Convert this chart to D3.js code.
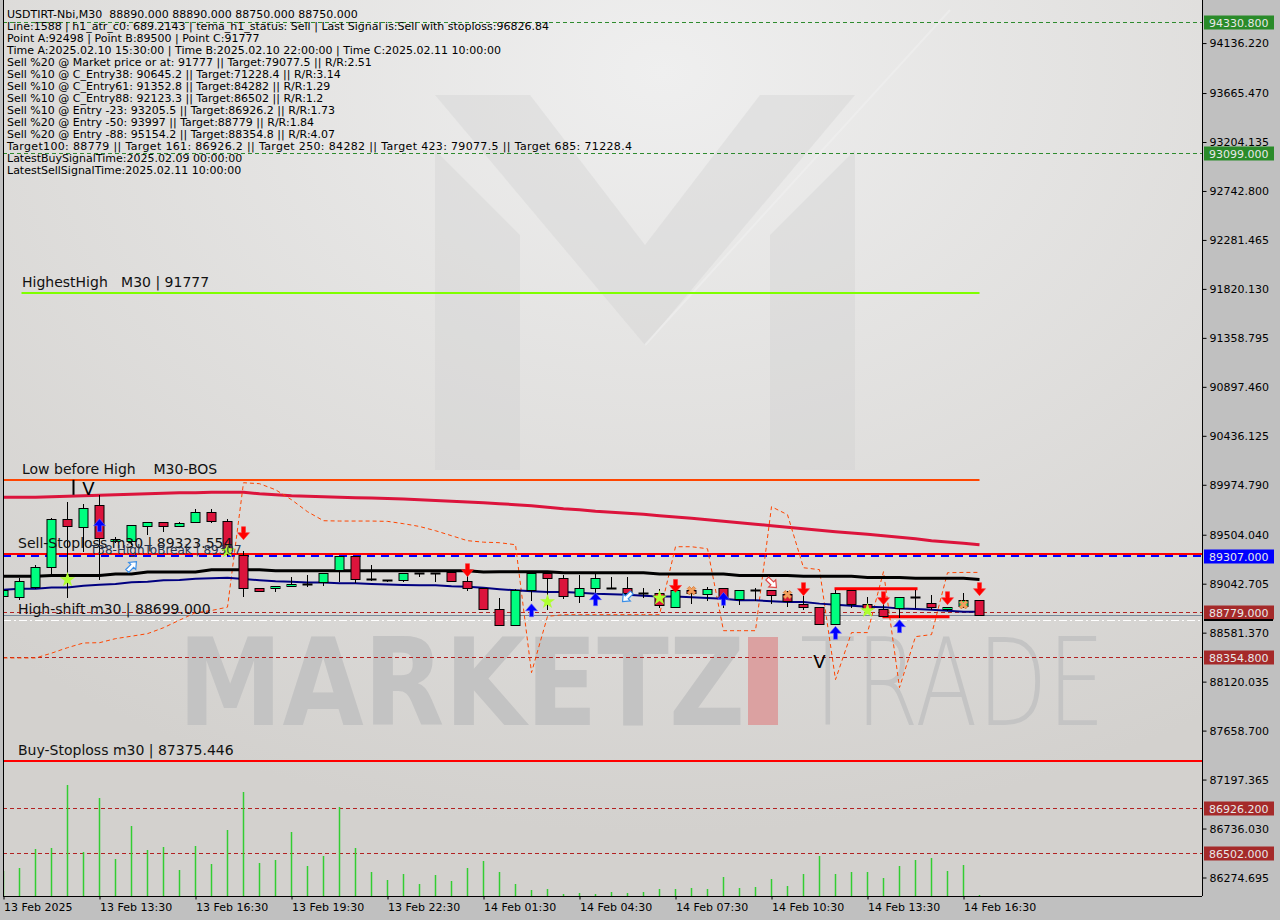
<!DOCTYPE html>
<html><head><meta charset="utf-8">
<script src="https://cdn.jsdelivr.net/npm/d3@7"></script>
<style>body{margin:0;background:#c0c0c0;}svg{display:block;} text{white-space:pre;}</style>
</head><body><svg id="c" width="1280" height="920"></svg>
<script>
// ---------------- DATA ----------------
const headerLines = [
 "USDTIRT-Nbi,M30  88890.000 88890.000 88750.000 88750.000",
 "Line:1588 | h1_atr_c0: 689.2143 | tema_h1_status: Sell | Last Signal is:Sell with stoploss:96826.84",
 "Point A:92498 | Point B:89500 | Point C:91777",
 "Time A:2025.02.10 15:30:00 | Time B:2025.02.10 22:00:00 | Time C:2025.02.11 10:00:00",
 "Sell %20 @ Market price or at: 91777 || Target:79077.5 || R/R:2.51",
 "Sell %10 @ C_Entry38: 90645.2 || Target:71228.4 || R/R:3.14",
 "Sell %10 @ C_Entry61: 91352.8 || Target:84282 || R/R:1.29",
 "Sell %10 @ C_Entry88: 92123.3 || Target:86502 || R/R:1.2",
 "Sell %10 @ Entry -23: 93205.5 || Target:86926.2 || R/R:1.73",
 "Sell %20 @ Entry -50: 93997 || Target:88779 || R/R:1.84",
 "Sell %20 @ Entry -88: 95154.2 || Target:88354.8 || R/R:4.07",
 "Target100: 88779 || Target 161: 86926.2 || Target 250: 84282 || Target 423: 79077.5 || Target 685: 71228.4",
 "LatestBuySignalTime:2025.02.09 00:00:00",
 "LatestSellSignalTime:2025.02.11 10:00:00"
];
const timeIdx = [0,6,12,18,24,30,36,42,48,54,60];
const timeLabels = ["13 Feb 2025","13 Feb 13:30","13 Feb 16:30","13 Feb 19:30","13 Feb 22:30","14 Feb 01:30","14 Feb 04:30","14 Feb 07:30","14 Feb 10:30","14 Feb 13:30","14 Feb 16:30"];
const priceTicks = [94136.22,93665.47,93204.135,92742.8,92281.465,91820.13,91358.795,90897.46,90436.125,89974.79,89504.04,89042.705,88581.37,88120.035,87658.7,87197.365,86736.03,86274.695];

const open  = [88930,88917,89012,89200,89652,89576,89786,89448,89441,89591,89624,89589,89620,89721,89638,89316,89002,88998,89017,89042,89059,89174,89304,89085,89078,89078,89146,89146,89149,89068,89002,88804,88650,88980,89143,89096,88923,89002,89005,89002,88955,88955,88820,88986,88942,89002,88899,88983,88986,88946,88854,88824,88663,88986,88851,88804,88814,88920,88861,88804,88836,88890];
const high  = [89033,89093,89222,89664,89808,89791,89878,89485,89600,89628,89628,89626,89746,89746,89655,89347,89002,89017,89106,89127,89143,89304,89304,89222,89078,89143,89146,89146,89150,89127,89002,88908,88996,89143,89143,89127,89127,89134,89102,89102,89002,88993,89002,88986,89012,89002,88986,89002,88986,88970,88930,88824,88986,88986,88917,88854,88917,88986,88939,88826,88955,88890];
const low   = [88864,88892,88996,89106,88908,89344,89080,89429,89410,89504,89526,89582,89614,89614,89300,88918,88961,88961,89012,89008,89017,89059,89052,89064,89055,89055,89102,89055,89060,88970,88800,88647,88647,88876,88798,88901,88861,88939,89000,88939,88908,88814,88814,88854,88876,88814,88845,88876,88854,88820,88798,88650,88650,88814,88782,88735,88720,88814,88798,88782,88814,88750];
const close = [88980,89071,89200,89652,89589,89755,89473,89466,89598,89624,89589,89614,89721,89638,89363,89002,88970,89017,89040,89042,89143,89304,89087,89085,89078,89143,89146,89146,89068,89002,88804,88650,88986,89143,89096,88923,89002,89096,89005,88955,88955,88838,88980,88955,88993,88908,88986,88983,88933,88876,88820,88663,88955,88854,88804,88735,88917,88920,88824,88826,88886,88750];
const volume = [250,280,470,480,1110,440,980,370,700,460,490,260,500,320,660,1040,330,360,640,300,400,890,480,240,160,220,120,210,150,280,350,240,120,60,70,20,30,20,40,30,40,70,70,80,70,190,80,90,170,100,220,400,220,240,240,180,300,360,380,250,310,10];

const crimsonMA = [89857,89857,89857,89862,89867,89871,89876,89881,89885,89890,89895,89899,89899,89904,89904,89904,89890,89881,89871,89867,89862,89857,89852,89850,89845,89840,89834,89827,89820,89812,89805,89796,89787,89777,89763,89749,89739,89725,89716,89706,89697,89683,89671,89659,89645,89631,89617,89603,89589,89575,89560,89546,89532,89520,89509,89495,89480,89466,89447,89435,89424,89410];
const blackMA = [89112,89112,89112,89121,89121,89121,89121,89134,89134,89153,89153,89153,89153,89174,89174,89174,89174,89165,89165,89165,89165,89165,89165,89165,89165,89165,89165,89165,89165,89165,89153,89156,89156,89156,89156,89146,89146,89146,89146,89146,89146,89134,89134,89134,89134,89134,89121,89121,89121,89121,89112,89112,89112,89112,89102,89102,89102,89093,89093,89093,89093,89083];
const navyMA = [88986,88996,88996,89008,89008,89024,89033,89040,89057,89062,89076,89078,89090,89095,89099,89087,89076,89066,89062,89055,89055,89047,89046,89041,89036,89031,89027,89027,89019,89015,89005,88991,88980,88972,88965,88965,88958,88949,88944,88939,88930,88923,88923,88916,88908,88902,88887,88886,88878,88871,88871,88855,88845,88836,88826,88822,88810,88805,88798,88789,88779,88779];
const orangeBand = [88343,88343,88343,88388,88440,88484,88487,88525,88548,88572,88628,88699,88770,88790,88822,89994,89985,89928,89834,89721,89636,89633,89633,89633,89630,89608,89582,89542,89495,89448,89434,89429,89410,88205,88735,88751,88751,88751,88751,88751,88751,88751,89391,89391,89372,88600,88600,88600,89768,89693,89193,89175,88139,88582,88582,89156,88064,88544,88563,89146,89149,89149];

const greenLevels = [94330.8, 93099.0];
const brownLevels = [88779.0, 88354.8, 86926.2, 86502.0];
const stopLevels = [89323.554, 87375.446];
const breakLevel = 89307.0;
const highestHigh = 91777;
const lowBeforeHigh = 90022;
const highShift = 88699.0;
const bidPrice = 88750;
const levelTexts = [
 {t:"HighestHigh   M30 | 91777", p:91777},
 {t:"Low before High    M30-BOS", p:90022},
 {t:"Sell-Stoploss m30 | 89323.554", p:89323.554},
 {t:"High-shift m30 | 88699.000", p:88699.0},
 {t:"Buy-Stoploss m30 | 87375.446", p:87375.446}
];
const axisBoxes = [
 {p:94330.8, k:"g"},{p:93099.0, k:"g"},{p:89307.0, k:"b"},{p:88779.0, k:"r"},
 {p:88354.8, k:"r"},{p:86926.2, k:"r"},{p:86502.0, k:"r"}
];
const sellArrowIdx = [15,29,42,50,55,59,61];
const sellArrowP   = [89457,89109,88960,88930,88845,88845,88930];
const buyArrowIdx  = [6,33,37,45,52,56];
const buyArrowP    = [89655,88854,88958,88961,88641,88704];
const starIdx = [4,14,34,41,54];
const starP   = [89080,89353,88873,88908,88789];
const crossIdx = [43,49,60];
const crossP   = [88977,88939,88845];
const hollowArrows = [{i:8,p:89203,dir:"ne"},{i:39,p:88920,dir:"sw"},{i:48,p:89052,dir:"se"}];
const boxSegments = [{from:52,to:57,p:88996},{from:55,to:59,p:88732}];
const vMarks = [{i:5.3,p:89880},{i:51,p:88252}];

// ---------------- SCALES ----------------
const svg = d3.select("#c");
const L=3, R=1202, B=896;
const x = d3.scaleLinear().domain([0,61]).range([3.5,979.5]);
const y = d3.scaleLinear().domain([86274.695,93204.135]).range([877.5,142]);
const vy = d3.scaleLinear().domain([0,1000]).range([B,796]);

// ---------------- BACKGROUND ----------------
const defs = svg.append("defs");
const rg = defs.append("radialGradient").attr("id","bg").attr("cx","55%").attr("cy","8%").attr("r","85%");
rg.append("stop").attr("offset","0%").attr("stop-color","#efefef");
rg.append("stop").attr("offset","100%").attr("stop-color","#d3d1ce");
defs.append("clipPath").attr("id","pc").append("rect").attr("x",L).attr("y",0).attr("width",R-L).attr("height",B);
svg.append("rect").attr("width",1280).attr("height",920).attr("fill","#c0c0c0");
svg.append("rect").attr("x",L).attr("y",0).attr("width",R-L).attr("height",B).attr("fill","url(#bg)");

const g = svg.append("g").attr("clip-path","url(#pc)");

// watermark
const wm = g.append("g");
wm.append("polygon").attr("points","435,150 520,235 520,470 435,470").attr("fill","#cfcfcf").attr("opacity",0.35);
wm.append("polygon").attr("points","770,235 855,150 855,470 770,470").attr("fill","#cfcfcf").attr("opacity",0.35);
wm.append("polygon").attr("points","435,95 530,95 645,245 760,95 855,95 645,345").attr("fill","#cfcfcf").attr("opacity",0.35);
wm.append("line").attr("x1",645).attr("y1",345).attr("x2",950).attr("y2",10).attr("stroke","#f2f2f2").attr("stroke-width",2).attr("opacity",0.5);
wm.append("text").attr("x",178).attr("y",725).attr("font-family","DejaVu Sans").attr("font-weight","bold")
  .attr("font-size",122).attr("textLength",567).attr("lengthAdjust","spacingAndGlyphs").attr("fill","#c3c3c3").text("MARKETZ");
wm.append("rect").attr("x",748).attr("y",637).attr("width",30).attr("height",88).attr("fill","#dba1a1");
wm.append("text").attr("x",800).attr("y",725).attr("font-family","DejaVu Sans").attr("font-weight","200")
  .attr("font-size",122).attr("textLength",305).attr("lengthAdjust","spacingAndGlyphs").attr("fill","#c4c4c4").text("TRADE");

// ---------------- LEVEL LINES ----------------
const hl = (p,x0,x1,color,w,dash)=>{
  const yy = Math.round(y(p))+0.5*(w%2);
  g.append("line").attr("x1",x0).attr("x2",x1).attr("y1",yy).attr("y2",yy)
   .attr("stroke",color).attr("stroke-width",w).attr("stroke-dasharray",dash||null);
};
greenLevels.forEach(p=>hl(p,L,R,"#2e8b2e",1,"4,3"));
brownLevels.forEach(p=>hl(p,L,R,"#b22222",1,"4,3"));
hl(highShift,L,R,"#ffffff",1,"8,3,2,3");
hl(bidPrice,L,R,"#778899",1);
hl(breakLevel,L,R,"#0000ff",2,"8,6");
stopLevels.forEach(p=>hl(p,L,R,"#ff0000",2));
hl(highestHigh,x(1)+2,x(61),"#7fff00",2);
hl(lowBeforeHigh,L,x(61),"#ff4500",2);

// volumes
g.append("g").selectAll("line").data(volume).join("line")
 .attr("x1",(d,i)=>x(i)).attr("x2",(d,i)=>x(i)).attr("y1",B).attr("y2",d=>vy(d))
 .attr("stroke","#32cd32").attr("stroke-width",1.5);

// MA lines
const ln = d3.line().x((d,i)=>x(i)).y(d=>y(d));
g.append("path").attr("d",ln(crimsonMA)).attr("fill","none").attr("stroke","#dc143c").attr("stroke-width",3);
g.append("path").attr("d",ln(orangeBand)).attr("fill","none").attr("stroke","#ff4500").attr("stroke-width",1).attr("stroke-dasharray","4,3");
g.append("path").attr("d",ln(blackMA)).attr("fill","none").attr("stroke","#000").attr("stroke-width",3);
g.append("path").attr("d",ln(navyMA)).attr("fill","none").attr("stroke","#000080").attr("stroke-width",2);

// box segments
boxSegments.forEach(s=>{
  g.append("line").attr("x1",x(s.from)-1).attr("x2",x(s.to)+2).attr("y1",y(s.p)).attr("y2",y(s.p))
   .attr("stroke","#ff0000").attr("stroke-width",3);
});

// ---------------- CANDLES ----------------
const cg = g.append("g");
open.forEach((o,i)=>{
  const c=close[i], cx=x(i);
  cg.append("line").attr("x1",cx).attr("x2",cx).attr("y1",Math.round(y(high[i]))).attr("y2",Math.round(y(low[i])))
    .attr("stroke","#000").attr("stroke-width",1);
  const yt=Math.round(y(Math.max(o,c))), yb=Math.round(y(Math.min(o,c)));
  if (o===c) {
    cg.append("line").attr("x1",cx-5).attr("x2",cx+5).attr("y1",yt+0.5).attr("y2",yt+0.5).attr("stroke","#000").attr("stroke-width",2);
  } else {
    cg.append("rect").attr("x",cx-4.5).attr("y",yt+0.5).attr("width",9).attr("height",Math.max(1,yb-yt))
      .attr("fill",c>o?"#00ff7f":"#dc143c").attr("stroke","#000").attr("stroke-width",1);
  }
});

// ---------------- MARKERS ----------------
const mg = g.append("g");
sellArrowIdx.forEach((i,k)=>{
  mg.append("path").attr("transform",`translate(${x(i)},${y(sellArrowP[k])})`)
    .attr("d","M-2,-13L2,-13L2,-7L6,-7L0,0L-6,-7L-2,-7Z").attr("fill","#ff0000").attr("stroke","#ff3030").attr("stroke-width",0.6);
});
buyArrowIdx.forEach((i,k)=>{
  mg.append("path").attr("transform",`translate(${x(i)},${y(buyArrowP[k])})`)
    .attr("d","M-2,13L2,13L2,7L6,7L0,0L-6,7L-2,7Z").attr("fill","#0000ff").attr("stroke","#6a6aff").attr("stroke-width",0.6);
});
starIdx.forEach((i,k)=>{
  mg.append("path").attr("transform",`translate(${x(i)},${y(starP[k])})`)
    .attr("d",d3.symbol(d3.symbolStar,70)()).attr("fill","#adff2f");
});
crossIdx.forEach((i,k)=>{
  mg.append("path").attr("transform",`translate(${x(i)},${y(crossP[k])}) rotate(45)`)
    .attr("d",d3.symbol(d3.symbolCross,45)()).attr("fill","#f0a060").attr("stroke","#d2691e").attr("stroke-width",0.6);
});
const rot = {ne:-45, sw:135, se:45};
hollowArrows.forEach(a=>{
  mg.append("path").attr("transform",`translate(${x(a.i)},${y(a.p)}) rotate(${rot[a.dir]})`)
    .attr("d","M-6,-2L1,-2L1,-5L7,0L1,5L1,2L-6,2Z").attr("fill","#ffffff")
    .attr("stroke",a.dir==="se"?"#e04848":"#3a8ee6").attr("stroke-width",1.2);
});
// V marks
vMarks.forEach(v=>{
  mg.append("text").attr("x",x(v.i)).attr("y",y(v.p)).attr("text-anchor","middle")
    .attr("font-family","DejaVu Sans").attr("font-size",18).attr("fill","#000").text("V");
});
mg.append("line").attr("x1",73.5).attr("x2",73.5).attr("y1",y(90022)).attr("y2",y(89880)).attr("stroke","#000").attr("stroke-width",2);

// ---------------- TEXTS ----------------
const tg = svg.append("g").attr("font-family","DejaVu Sans");
levelTexts.forEach((d,k)=>{
  tg.append("text").attr("x",k===0||k===1?22:18).attr("y",y(d.p)-6).attr("font-size",14).attr("fill","#111").text(d.t);
});
tg.append("text").attr("x",90).attr("y",y(breakLevel)-2).attr("font-size",12).attr("fill","#2a3550").text("T38-HighToBreak | 89307");
headerLines.forEach((t,k)=>{
  const tx = tg.append("text").attr("x",7).attr("y",17.5+12.05*k).attr("font-size",11).attr("fill","#000").text(t);
  if (t.length>100) tx.attr("textLength",625).attr("lengthAdjust","spacing");
});

// ---------------- AXES ----------------
svg.append("line").attr("x1",L+0.5).attr("x2",L+0.5).attr("y1",0).attr("y2",B).attr("stroke","#000");
const ax = svg.append("g").attr("transform",`translate(${R+0.5},0)`)
  .call(d3.axisRight(y).tickValues(priceTicks).tickSize(4).tickPadding(3).tickFormat(d3.format(".3f")));
ax.select(".domain").attr("d",`M0,0V${B}`).attr("stroke","#000");
ax.selectAll("text").attr("font-family","DejaVu Sans").attr("font-size",11).attr("fill","#000");
const bx = svg.append("g").attr("transform",`translate(0,${B+0.5})`)
  .call(d3.axisBottom(x).tickValues(timeIdx).tickSize(3).tickFormat((d,i)=>timeLabels[i]));
bx.select(".domain").attr("d",`M${L},0H${R}`).attr("stroke","#000");
bx.selectAll("text").attr("font-family","DejaVu Sans").attr("font-size",11).attr("fill","#000")
  .attr("text-anchor","start").attr("dx",0).attr("y",7);

// axis highlight boxes
const boxCol = {g:"#2a8b2a", b:"#0000ff", r:"#a52a2a"};
axisBoxes.forEach(b=>{
  const yy=y(b.p);
  svg.append("rect").attr("x",1204).attr("y",Math.round(yy)-6.5).attr("width",70).attr("height",14).attr("fill",boxCol[b.k]);
  svg.append("text").attr("x",1209).attr("y",Math.round(yy)+4.5).attr("font-family","DejaVu Sans").attr("font-size",11)
    .attr("fill","#e8e8e8").text(d3.format(".3f")(b.p));
});
svg.append("line").attr("x1",1204).attr("x2",1273).attr("y1",Math.round(y(brownLevels[0]))+8).attr("y2",Math.round(y(brownLevels[0]))+8).attr("stroke","#000").attr("stroke-width",2);
</script></body></html>
